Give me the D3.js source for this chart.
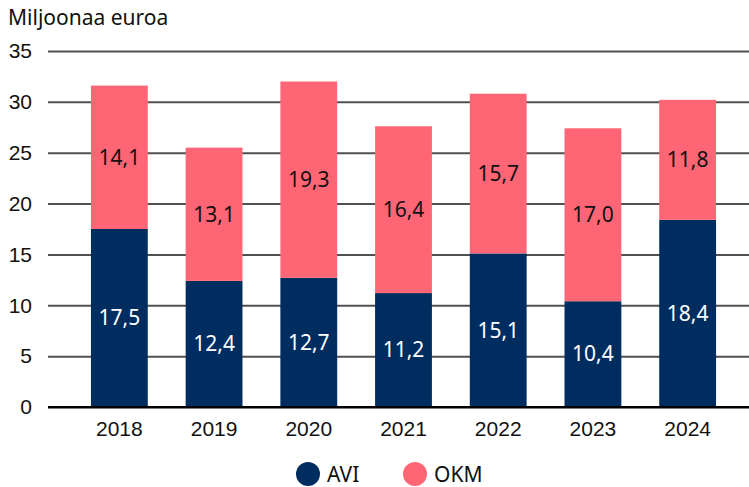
<!DOCTYPE html>
<html>
<head>
<meta charset="utf-8">
<script src="https://cdn.jsdelivr.net/npm/d3@7"></script>
<style>
  body { margin: 0; background: #fff; }
  svg { font-family: "Noto Sans", "Open Sans", sans-serif; }
</style>
</head>
<body>
<div id="chart"></div>
<script>
// data
var years = ["2018", "2019", "2020", "2021", "2022", "2023", "2024"];
var avi = [17.5, 12.4, 12.7, 11.2, 15.1, 10.4, 18.4];
var okm = [14.1, 13.1, 19.3, 16.4, 15.7, 17.0, 11.8];
var yTicks = [0, 5, 10, 15, 20, 25, 30, 35];
var seriesNames = ["AVI", "OKM"];
var colors = ["#002d5f", "#ff6675"];
var labelColors = ["#fff", "#111"];

var width = 749, height = 487;
var fs = 21;

var svg = d3.select("#chart").append("svg")
  .attr("width", width)
  .attr("height", height);

var x = d3.scaleBand()
  .domain(years)
  .range([72, 735])
  .paddingInner(0.4)
  .paddingOuter(0.2);

var y = d3.scaleLinear()
  .domain([0, 35])
  .range([407, 51]);

// gridlines + y labels
var yAxis = d3.axisLeft(y)
  .tickValues(yTicks)
  .tickSize(-(width - 48))
  .tickPadding(16)
  .tickFormat(d3.format("d"));

var ga = svg.append("g")
  .attr("transform", "translate(48,0)")
  .call(yAxis);
ga.select(".domain").remove();
ga.selectAll(".tick line")
  .attr("stroke", function (d) { return d === 0 ? "#000" : "#505050"; })
  .attr("stroke-width", 2);
ga.selectAll(".tick text")
  .attr("font-size", fs)
  .attr("fill", "#111");

// title
svg.append("text")
  .attr("x", 8)
  .attr("y", 25)
  .attr("font-size", fs)
  .attr("fill", "#111")
  .text("Miljoonaa euroa");

// stack
var rows = years.map(function (yr, i) { return {year: yr, AVI: avi[i], OKM: okm[i]}; });
var stacked = d3.stack().keys(seriesNames)(rows);

var fmt = function (v) { return d3.format(".1f")(v).replace(".", ","); };

stacked.forEach(function (layer, k) {
  var g = svg.append("g");
  g.selectAll("rect")
    .data(layer)
    .enter().append("rect")
      .attr("x", function (d) { return x(d.data.year); })
      .attr("y", function (d) { return y(d[1]); })
      .attr("width", x.bandwidth())
      .attr("height", function (d) { return y(d[0]) - y(d[1]); })
      .attr("fill", colors[k]);
  g.selectAll("text")
    .data(layer)
    .enter().append("text")
      .attr("x", function (d) { return x(d.data.year) + x.bandwidth() / 2; })
      .attr("y", function (d) { return y((d[0] + d[1]) / 2); })
      .attr("dy", "0.35em")
      .attr("text-anchor", "middle")
      .attr("font-size", fs)
      .attr("fill", labelColors[k])
      .text(function (d) { return fmt(d[1] - d[0]); });
});

// baseline on top of bars
svg.append("line")
  .attr("x1", 48).attr("x2", width)
  .attr("y1", y(0)).attr("y2", y(0))
  .attr("stroke", "#000")
  .attr("stroke-width", 2);

// x axis labels
var xAxis = d3.axisBottom(x).tickSize(0).tickPadding(14);
var gx = svg.append("g")
  .attr("transform", "translate(0," + y(0) + ")")
  .call(xAxis);
gx.select(".domain").remove();
gx.selectAll(".tick text")
  .attr("font-size", fs)
  .attr("fill", "#111");

// legend
var legendX = [308, 415];
var legend = svg.append("g");
seriesNames.forEach(function (name, k) {
  legend.append("circle")
    .attr("cx", legendX[k])
    .attr("cy", 474)
    .attr("r", 12)
    .attr("fill", colors[k]);
  legend.append("text")
    .attr("x", legendX[k] + 19)
    .attr("y", 475)
    .attr("dy", "0.35em")
    .attr("font-size", fs)
    .attr("fill", "#111")
    .text(name);
});
</script>
</body>
</html>
